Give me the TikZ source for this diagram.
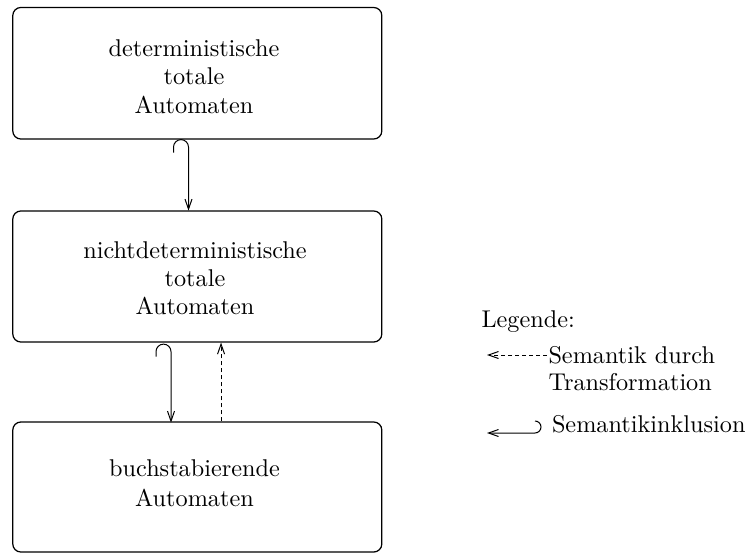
\documentclass[tikz,border=0pt]{standalone}
\usetikzlibrary{arrows.meta}
\begin{document}
\begin{tikzpicture}[x=0.4pt,y=0.4pt,
  box/.style={draw, line width=0.5pt, rounded corners=3.2pt, minimum width=147.6pt, inner sep=0pt},
  lbl/.style={align=center, font=\fontsize{9.7}{11.3}\selectfont, inner sep=0pt},
  lgd/.style={align=left, font=\fontsize{9.7}{10.8}\selectfont, inner sep=0pt},
  tip/.style={-{Straight Barb[length=4pt,width=2.8pt]}},
  conn/.style={line width=0.4pt},
  dsh/.style={dash pattern=on 1.6pt off 1.2pt}]
\useasboundingbox (0,0) rectangle (747,-553);
% boxes
\node[box, minimum height=52.6pt] (b1) at (197.3,-73.25) {};
\node[box, minimum height=52.4pt] (b2) at (197.3,-276.5) {};
\node[box, minimum height=52pt] (b3) at (197.3,-487) {};
% texts
\node[lbl] (t1) at (194,-76.5) {deterministische\\totale\\Automaten};
\node[lbl] (t2) at (195,-278.3) {nichtdeterministische\\totale\\Automaten};
\node[lbl, font=\fontsize{9.7}{12}\selectfont] (t3) at (194.5,-483.5) {buchstabierende\\Automaten};
% inclusion arrows with hooks
\draw[conn,tip] (b1.south) ++(-23.8,-13) -- ++(0,5.5)
  arc[start angle=180,end angle=0,radius=7.5] -- ++(0,-63.5);
\draw[conn,tip] (b2.south) ++(-41.3,-14) -- ++(0,5)
  arc[start angle=180,end angle=0,radius=7.5] -- ++(0,-71);
% transformation arrow
\draw[conn,tip,dsh] ([xshift=9.5pt]b3.north) -- ([xshift=9.5pt]b2.south);
% legend
\node[lgd, anchor=base west] (leg) at (481,-327) {Legende:};
\node[lgd, anchor=north west] (sd) at (548,-346) {Semantik durch\\Transformation};
\node[lgd, anchor=base west] (si) at (551.5,-432) {Semantikinklusion};
\draw[conn,tip,dsh] (sd.north west) ++(-1,-9) -- ++(-60,0);
\draw[conn,tip] (si.base west) ++(-16.5,11)
  arc[start angle=90,end angle=-90,radius=6] -- ++(-48,0);
\end{tikzpicture}
\end{document}
